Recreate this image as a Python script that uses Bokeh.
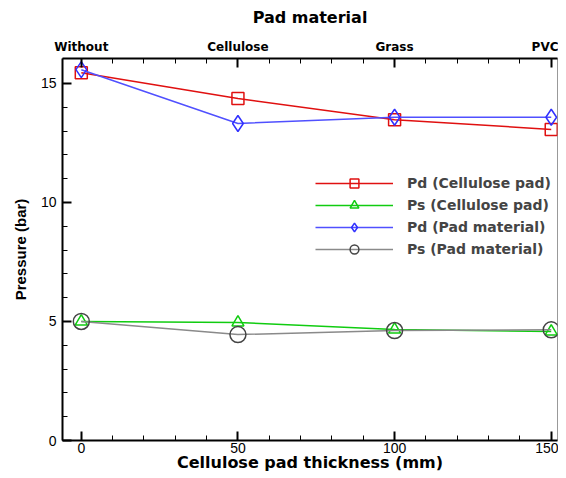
from bokeh.plotting import figure
from bokeh.models import LinearAxis, FixedTicker, Range1d, Legend, LegendItem
from bokeh.embed import file_html
from bokeh.resources import INLINE

thickness = [0, 50, 100, 150]
materials = ["Without", "Cellulose", "Grass", "PVC"]
pd_cellulose = [15.45, 14.37, 13.48, 13.07]
ps_cellulose = [5.0, 4.96, 4.66, 4.58]
pd_material = [15.58, 13.32, 13.58, 13.58]
ps_material = [5.0, 4.45, 4.62, 4.65]

FONT = "Liberation Sans"
WIDE = "DejaVu Sans"

p = figure(width=558, height=474, output_backend="svg", toolbar_location=None,
           x_range=Range1d(-6, 152), y_range=Range1d(0, 16.05),
           min_border_left=62, min_border_right=1, min_border_top=58, min_border_bottom=33,
           x_axis_location=None, y_axis_location=None)
p.grid.visible = False
p.outline_line_color = "#999999"
p.outline_line_width = 1
p.background_fill_color = "white"

def style_axis(ax):
    ax.axis_line_color = "black"
    ax.axis_line_width = 2
    ax.major_tick_in = 9
    ax.major_tick_out = 0
    ax.minor_tick_in = 5
    ax.minor_tick_out = 0
    ax.major_tick_line_width = 2
    ax.minor_tick_line_width = 1
    ax.major_tick_line_color = "black"
    ax.minor_tick_line_color = "black"
    ax.major_label_text_font = FONT
    ax.axis_label_text_font = FONT
    ax.axis_label_text_font_style = "bold"
    ax.axis_label_text_color = "black"
    ax.major_label_text_color = "black"

xticker = FixedTicker(ticks=thickness, minor_ticks=list(range(-0, 151, 10)))
yticker = FixedTicker(ticks=[0, 5, 10, 15], minor_ticks=list(range(0, 16)))

xb = LinearAxis(ticker=xticker, axis_label="Cellulose pad thickness (mm)")
style_axis(xb)
xb.major_label_text_font_size = "14px"
xb.axis_label_text_font = WIDE
xb.axis_label_text_font_size = "16px"
xb.major_label_standoff = 2
xb.axis_label_standoff = -3
p.add_layout(xb, "below")

xt = LinearAxis(ticker=xticker, axis_label="Pad material",
                major_label_overrides={t: m for t, m in zip(thickness, materials)})
style_axis(xt)
xt.major_label_text_font = WIDE
xt.major_label_text_font_size = "12px"
xt.major_label_text_font_style = "bold"
xt.axis_label_text_font = WIDE
xt.axis_label_text_font_size = "16px"
xt.major_label_standoff = 5
xt.axis_label_standoff = 10
p.add_layout(xt, "above")

yl = LinearAxis(ticker=yticker, axis_label="Pressure (bar)")
style_axis(yl)
yl.major_label_text_font_size = "14px"
yl.axis_label_text_font_size = "15px"
yl.major_label_standoff = 6
yl.axis_label_standoff = 9
p.add_layout(yl, "left")

series = [
    ("Pd (Cellulose pad)", pd_cellulose, "#e01010", "square", 12, "#e01010"),
    ("Ps (Cellulose pad)", ps_cellulose, "#10cc10", "triangle", 12, "#10cc10"),
    ("Pd (Pad material)", pd_material, "#5050ff", "diamond", 16, "#3030ff"),
    ("Ps (Pad material)", ps_material, "#8a8a8a", "circle", 16, "#444444"),
]

items = []
for label, ys, col, marker, size, mcol in series:
    r1 = p.line(thickness, ys, line_color=col, line_width=1.5)
    r2 = p.scatter(thickness, ys, marker=marker, size=size, line_color=mcol,
                   line_width=1.5, fill_alpha=0)
    items.append(LegendItem(label=label, renderers=[r1, r2]))

legend = Legend(items=items, location=(249, 176), border_line_alpha=0,
                background_fill_alpha=0, glyph_width=78, glyph_height=22,
                spacing=0, label_standoff=14, label_text_font=WIDE,
                label_text_font_style="bold", label_text_font_size="14px",
                padding=4, margin=0)
p.add_layout(legend, "center")

open("out.html", "w").write(file_html(p, INLINE))
